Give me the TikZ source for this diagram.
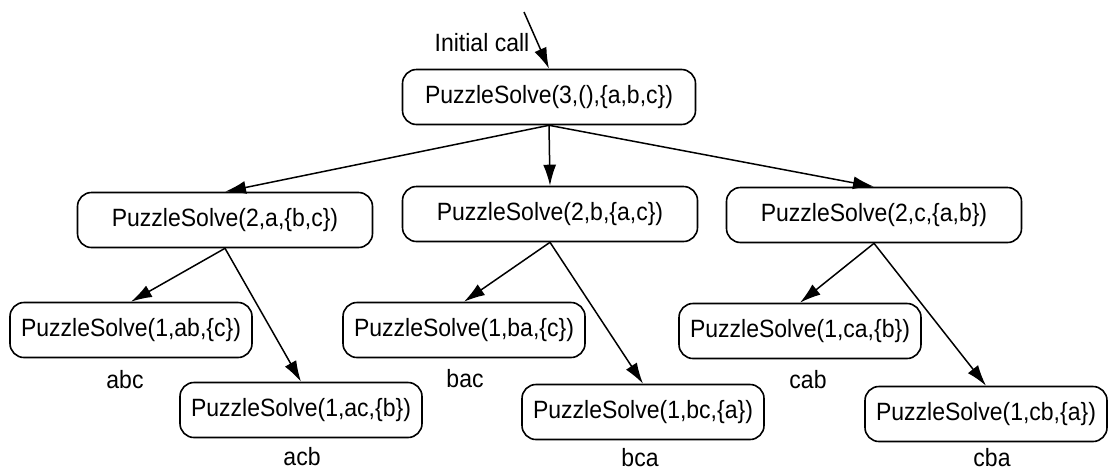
\documentclass[tikz,border=0pt]{standalone}
\usepackage{fontspec}
\setmainfont{Liberation Sans}[FakeStretch=0.92]
\usetikzlibrary{arrows.meta}
\begin{document}
\begin{tikzpicture}[x=1pt,y=-1pt,
  txt/.style={font=\fontsize{25}{30}\selectfont, inner sep=0pt},
  box/.style={txt, draw, rounded corners=14pt, line width=1.6pt, minimum height=55pt},
  rootbox/.style={box, minimum width=293pt},
  midbox/.style={box, minimum width=295pt},
  leafbox/.style={box, minimum width=242pt},
  arr/.style={line width=1.5pt, -{Latex[length=21pt,width=13pt]}}]
\useasboundingbox (0,0) rectangle (1108,472);

\node[rootbox] (root) at (549,97) {PuzzleSolve(3,(),\{a,b,c\})};
\node[midbox] (a) at (225,220) {PuzzleSolve(2,a,\{b,c\})};
\node[midbox] (b) at (550,214) {PuzzleSolve(2,b,\{a,c\})};
\node[midbox] (c) at (874,215) {PuzzleSolve(2,c,\{a,b\})};

\node[leafbox] (ab) at (131,330) {PuzzleSolve(1,ab,\{c\})};
\node[leafbox] (ac) at (301,410) {PuzzleSolve(1,ac,\{b\})};
\node[leafbox] (ba) at (464,330) {PuzzleSolve(1,ba,\{c\})};
\node[leafbox] (bc) at (643,412) {PuzzleSolve(1,bc,\{a\})};
\node[leafbox] (ca) at (800,331) {PuzzleSolve(1,ca,\{b\})};
\node[leafbox] (cb) at (986,414) {PuzzleSolve(1,cb,\{a\})};

\node[txt] (labc) at (125,380) {abc};
\node[txt] (lacb) at (302,457) {acb};
\node[txt] (lbac) at (465,379) {bac};
\node[txt] (lbca) at (640,458) {bca};
\node[txt] (lcab) at (808,380) {cab};
\node[txt] (lcba) at (992,458) {cba};

\node[txt] (init) at (482,43) {Initial call};
\coordinate (start) at (524,12);

\draw[arr] (start) -- (root.north);
\draw[arr] (root.south) -- (a.north);
\draw[arr] (root.south) -- (b.north);
\draw[arr] (root.south) -- (c.north);
\draw[arr] (a.south) -- (ab.north);
\draw[arr] (a.south) -- (ac.north);
\draw[arr] (b.south) -- (ba.north);
\draw[arr] (b.south) -- (bc.north);
\draw[arr] (c.south) -- (ca.north);
\draw[arr] (c.south) -- (cb.north);
\end{tikzpicture}
\end{document}
